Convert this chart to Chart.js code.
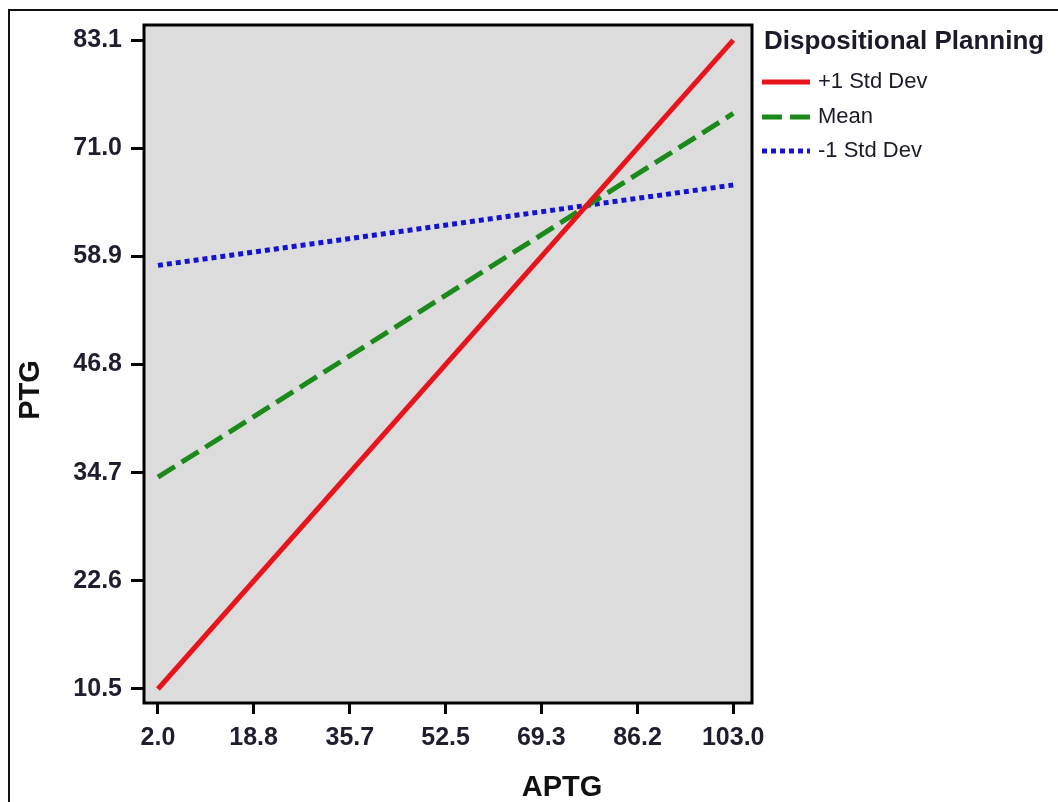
<!DOCTYPE html>
<html>
<head>
<meta charset="utf-8">
<script src="https://cdn.jsdelivr.net/npm/chart.js@4/dist/chart.umd.min.js"></script>
<style>
  html, body { margin: 0; padding: 0; background: #fff; }
  #wrap { width: 1058px; height: 802px; position: relative; }
</style>
</head>
<body>
<div id="wrap"><canvas id="mychart" width="1058" height="802"></canvas></div>
<script>
const xValues = [2.0, 103.0];
const plusSD = [10.5, 83.1];
const meanVals = [34.2, 74.9];
const minusSD = [57.9, 66.9];
const xTicks = [2.0, 18.8, 35.7, 52.5, 69.3, 86.2, 103.0];
const yTicks = [10.5, 22.6, 34.7, 46.8, 58.9, 71.0, 83.1];
const seriesNames = ["+1 Std Dev", "Mean", "-1 Std Dev"];
const legendTitle = "Dispositional Planning";

const toPoints = (ys) => xValues.map((x, i) => ({x: x, y: ys[i]}));
const labelFont = {family: "'Liberation Sans', Arial, sans-serif", size: 25, weight: "bold"};

const framePlugin = {
  id: "frame",
  beforeDraw(chart) {
    const {ctx, chartArea: a} = chart;
    ctx.save();
    ctx.fillStyle = "#dcdcdc";
    ctx.fillRect(a.left, a.top, a.right - a.left, a.bottom - a.top);
    ctx.restore();
  },
  afterDraw(chart) {
    const {ctx, chartArea: a} = chart;
    ctx.save();
    // outer frame
    ctx.strokeStyle = "#111";
    ctx.lineWidth = 2;
    ctx.beginPath();
    ctx.moveTo(9, 802);
    ctx.lineTo(9, 10);
    ctx.lineTo(1058, 10);
    ctx.stroke();
    // plot border
    ctx.strokeStyle = "#000";
    ctx.lineWidth = 3;
    ctx.strokeRect(a.left, a.top, a.right - a.left, a.bottom - a.top);
    // axis titles
    ctx.fillStyle = "#111";
    ctx.font = "bold 29px 'Liberation Sans', Arial, sans-serif";
    ctx.textAlign = "center";
    ctx.textBaseline = "middle";
    ctx.fillText("APTG", 562, 788);
    ctx.translate(31, 390);
    ctx.rotate(-Math.PI / 2);
    ctx.fillText("PTG", 0, 0);
    ctx.restore();

    // legend
    ctx.save();
    ctx.fillStyle = "#1a1a2a";
    ctx.textAlign = "left";
    ctx.textBaseline = "middle";
    ctx.font = "bold 26px 'Liberation Sans', Arial, sans-serif";
    ctx.fillText(legendTitle, 764, 42);
    ctx.font = "22px 'Liberation Sans', Arial, sans-serif";
    const rows = [82, 117, 151];
    chart.data.datasets.forEach((ds, i) => {
      const y = rows[i];
      ctx.save();
      ctx.strokeStyle = ds.borderColor;
      ctx.lineWidth = 5;
      ctx.setLineDash(ds.legendDash || []);
      ctx.beginPath();
      ctx.moveTo(762, y);
      ctx.lineTo(810, y);
      ctx.stroke();
      ctx.restore();
      ctx.fillText(ds.label, 818, y);
    });
    ctx.restore();
  }
};

new Chart(document.getElementById("mychart"), {
  type: "line",
  data: {
    datasets: [
      {label: seriesNames[0], data: toPoints(plusSD), borderColor: "#e8141c", borderWidth: 5, pointRadius: 0, legendDash: []},
      {label: seriesNames[1], data: toPoints(meanVals), borderColor: "#1a8a1a", borderWidth: 5, borderDash: [20, 8], pointRadius: 0, legendDash: [20, 8]},
      {label: seriesNames[2], data: toPoints(minusSD), borderColor: "#1414d0", borderWidth: 5, borderDash: [5, 4], pointRadius: 0, legendDash: [5, 4]}
    ]
  },
  options: {
    responsive: false,
    animation: false,
    layout: {padding: {left: 0, top: 25, right: 306, bottom: 0}},
    plugins: {legend: {display: false}, tooltip: {enabled: false}},
    scales: {
      x: {
        type: "linear",
        min: -0.45,
        max: 106.3,
        afterBuildTicks: (s) => { s.ticks = xTicks.map(v => ({value: v})); },
        afterFit: (s) => { s.height = 99; },
        border: {display: false},
        grid: {drawOnChartArea: false, drawTicks: true, tickLength: 11, tickWidth: 3, tickColor: "#000"},
        ticks: {font: labelFont, color: "#1e1e2e", padding: 9, maxRotation: 0, autoSkip: false,
          callback: (v) => v.toFixed(1)}
      },
      y: {
        min: 8.93,
        max: 84.8,
        afterBuildTicks: (s) => { s.ticks = yTicks.map(v => ({value: v})); },
        afterFit: (s) => { s.width = 144; },
        border: {display: false},
        grid: {drawOnChartArea: false, drawTicks: true, tickLength: 13, tickWidth: 3, tickColor: "#000"},
        ticks: {font: labelFont, color: "#1e1e2e", padding: 9, autoSkip: false,
          callback: (v) => v.toFixed(1)}
      }
    }
  },
  plugins: [framePlugin]
});
</script>
</body>
</html>
